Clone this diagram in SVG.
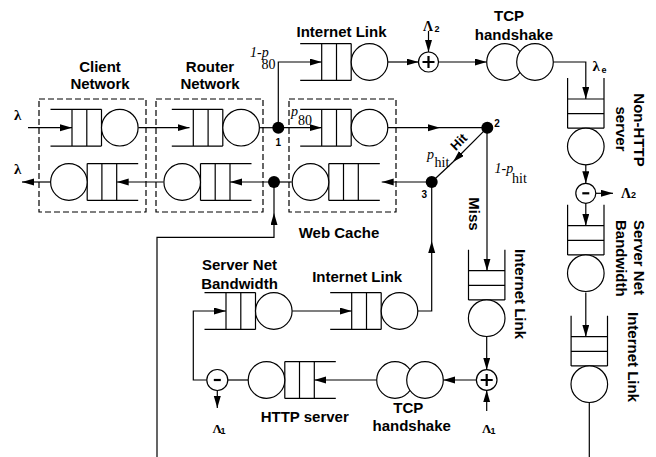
<svg xmlns="http://www.w3.org/2000/svg" xmlns:xlink="http://www.w3.org/1999/xlink" width="656" height="457" viewBox="0 0 656 457">
  <style>
    .ln { fill: none; stroke: #000; stroke-width: 1.2; }
    .dash { fill: none; stroke: #000; stroke-width: 1.2; stroke-dasharray: 6 3; }
    .srv { fill: #fff; stroke: #000; stroke-width: 1.2; }
    .dot { fill: #000; }
    .op { fill: #fff; stroke: #000; stroke-width: 1.2; }
    .sign { fill: none; stroke: #000; stroke-width: 2.2; }
    .lbl { font-family: "Liberation Sans", Arial, sans-serif; font-weight: bold; font-size: 15px; fill: #000; }
    .num { font-family: "Liberation Sans", Arial, sans-serif; font-weight: bold; font-size: 10px; fill: #000; }
    .math { font-family: "Liberation Serif", "Times New Roman", serif; font-size: 14px; fill: #000; }
    .it { font-style: italic; }
    .sym { font-family: "Liberation Serif", "Times New Roman", serif; font-weight: bold; font-size: 13px; fill: #000; }
    .lam { font-family: "Liberation Serif", "Times New Roman", serif; font-weight: bold; font-size: 15px; fill: #000; }
    .sub { font-family: "Liberation Sans", Arial, sans-serif; font-weight: bold; font-size: 9px; fill: #000; }
  </style>
  <defs>
    <marker id="ah" markerUnits="userSpaceOnUse" markerWidth="12" markerHeight="8" refX="12" refY="3.5" orient="auto">
      <path d="M0,0 L12,3.5 L0,7 z" fill="#000"/>
    </marker>
    <!-- queue entering from the left, server on the right; origin = first cell line -->
    <g id="qR">
      <path class="ln" d="M-21.5,-18.4 H29.5 M-21.5,18.4 H29.5 M0,-18.4 V18.4 M14.8,-18.4 V18.4 M29.5,-18.4 V18.4"/>
      <circle class="srv" cx="47.8" cy="0" r="18.3"/>
    </g>
    <!-- queue entering from the right, server on the left; origin = first cell line -->
    <g id="qL">
      <path class="ln" d="M21.5,-18.4 H-29.5 M21.5,18.4 H-29.5 M0,-18.4 V18.4 M-14.8,-18.4 V18.4 M-29.5,-18.4 V18.4"/>
      <circle class="srv" cx="-47.8" cy="0" r="18.3"/>
    </g>
    <!-- queue entering from the top, server below; origin = first cell line -->
    <g id="qD">
      <path class="ln" d="M-18.2,-21 V29.2 M18.2,-21 V29.2 M-18.2,0 H18.2 M-18.2,14.6 H18.2 M-18.2,29.2 H18.2"/>
      <circle class="srv" cx="0" cy="47.5" r="18.3"/>
    </g>
  </defs>

  <!-- connectors -->
  <g id="connectors">
    <path class="ln" marker-end="url(#ah)" d="M28,127.7 H72"/>
    <path class="ln" marker-end="url(#ah)" d="M138.3,127.7 H189.5"/>
    <path class="ln" d="M259,127.7 H278.3"/>
    <path class="ln" marker-end="url(#ah)" d="M278.3,127.7 H321.7"/>
    <path class="ln" marker-end="url(#ah)" d="M278.3,127.7 V62 H321.7"/>
    <path class="ln" marker-end="url(#ah)" d="M387.8,62 H418.5"/>
    <path class="ln" marker-end="url(#ah)" d="M428.5,31 V52"/>
    <path class="ln" marker-end="url(#ah)" d="M438.5,62 H486.7"/>
    <path class="ln" marker-end="url(#ah)" d="M553.3,62 H585.8 V99"/>
    <path class="ln" marker-end="url(#ah)" d="M585.8,164 V183.3"/>
    <path class="ln" marker-end="url(#ah)" d="M596,193.3 H613"/>
    <path class="ln" marker-end="url(#ah)" d="M585.8,203.3 V225.7"/>
    <path class="ln" marker-end="url(#ah)" d="M585.8,292.5 V336.7"/>
    <path class="ln" d="M589.3,402.7 V457"/>
    <path class="ln" marker-end="url(#ah)" d="M387.8,127.7 H440"/>
    <path class="ln" d="M440,127.7 H487.3"/>
    <path class="ln" marker-end="url(#ah)" d="M487.3,127.7 L453,162"/>
    <path class="ln" d="M453,162 L431.7,182"/>
    <path class="ln" marker-end="url(#ah)" d="M431.7,182 H381.7"/>
    <path class="ln" marker-end="url(#ah)" d="M487,127.7 V270.7"/>
    <path class="ln" marker-end="url(#ah)" d="M486.7,336.8 V369.7"/>
    <path class="ln" marker-end="url(#ah)" d="M486.7,411 V390.3"/>
    <path class="ln" marker-end="url(#ah)" d="M476.4,380 H443.3"/>
    <path class="ln" marker-end="url(#ah)" d="M376.7,380 H314.3"/>
    <path class="ln" d="M248.4,380 H227.8"/>
    <path class="ln" marker-end="url(#ah)" d="M206.8,380 H193.3 V311 H226"/>
    <path class="ln" marker-end="url(#ah)" d="M217.3,390.5 V408"/>
    <path class="ln" marker-end="url(#ah)" d="M292.3,311 H351.7"/>
    <path class="ln" marker-end="url(#ah)" d="M417,311 H431.7 V241"/>
    <path class="ln" d="M431.7,241 V182"/>
    <path class="ln" d="M291.7,182 H274"/>
    <path class="ln" marker-end="url(#ah)" d="M274,182 H230"/>
    <path class="ln" marker-end="url(#ah)" d="M163.4,182 H116.7"/>
    <path class="ln" marker-end="url(#ah)" d="M50,182 H22"/>
    <path class="ln" marker-end="url(#ah)" d="M157,457 V237.3 H274 V213"/>
    <path class="ln" d="M274,213 V182"/>
  </g>

  <!-- client network -->
  <g id="client-network">
    <rect class="dash" x="39" y="99" width="107" height="113"/>
    <use xlink:href="#qR" x="72" y="127.7"/>
    <use xlink:href="#qL" x="116.7" y="182"/>
    <text class="lbl" x="100" y="71.7" text-anchor="middle">Client</text>
    <text class="lbl" x="100" y="89.3" text-anchor="middle">Network</text>
  </g>

  <!-- router network -->
  <g id="router-network">
    <rect class="dash" x="156" y="99" width="107" height="113"/>
    <use xlink:href="#qR" x="193.3" y="127.7"/>
    <use xlink:href="#qL" x="230" y="182"/>
    <text class="lbl" x="210" y="71.7" text-anchor="middle">Router</text>
    <text class="lbl" x="210" y="89.3" text-anchor="middle">Network</text>
  </g>

  <!-- web cache -->
  <g id="web-cache">
    <rect class="dash" x="289" y="99" width="107" height="113"/>
    <use xlink:href="#qR" x="321.7" y="127.7"/>
    <use xlink:href="#qL" x="358.3" y="182"/>
    <text class="lbl" x="339" y="238.3" text-anchor="middle">Web Cache</text>
  </g>

  <!-- routing points -->
  <g id="junction-1">
    <circle class="dot" cx="278.3" cy="127.7" r="6"/>
    <text class="num" x="278.3" y="146" text-anchor="middle">1</text>
  </g>
  <g id="junction-2">
    <circle class="dot" cx="487.3" cy="127.7" r="6"/>
    <text class="num" x="497" y="127" text-anchor="middle">2</text>
  </g>
  <g id="junction-3">
    <circle class="dot" cx="431.7" cy="182" r="6"/>
    <text class="num" x="424.3" y="198" text-anchor="middle">3</text>
  </g>
  <g id="junction-4">
    <circle class="dot" cx="274" cy="182" r="6"/>
  </g>

  <!-- outer internet link -->
  <g id="internet-link-top">
    <use xlink:href="#qR" x="321.7" y="62"/>
    <text class="lbl" x="341.5" y="37.3" text-anchor="middle">Internet Link</text>
  </g>

  <g id="merge-top">
    <circle class="op" cx="428.5" cy="62" r="10"/>
    <path class="sign" d="M422.5,62 H434.5 M428.5,56 V68"/>
    <text class="sym" x="423" y="30.5" style="font-size:14px">Λ</text>
    <text class="sub" x="434.5" y="31.5">2</text>
  </g>

  <g id="tcp-top">
    <circle class="srv" cx="505" cy="62" r="18.3"/>
    <circle class="srv" cx="535" cy="62" r="18.3"/>
    <text class="lbl" x="509" y="20.7" text-anchor="middle">TCP</text>
    <text class="lbl" x="514" y="39.5" text-anchor="middle">handshake</text>
    <text class="lam" x="592.5" y="71">λ</text>
    <text class="sub" x="601.5" y="72.5">e</text>
  </g>

  <g id="non-http-server">
    <use xlink:href="#qD" x="585.8" y="99"/>
    <text class="lbl" transform="translate(634,130) rotate(90)" text-anchor="middle">Non-HTTP</text>
    <text class="lbl" transform="translate(616,129) rotate(90)" text-anchor="middle">server</text>
  </g>

  <g id="split-right">
    <circle class="op" cx="585.8" cy="193.3" r="10"/>
    <path class="sign" d="M582.3,193.3 H589.3"/>
    <text class="sym" x="621" y="197.5" style="font-size:14px">Λ</text>
    <text class="sub" x="631" y="198">2</text>
  </g>

  <g id="server-bandwidth-right">
    <use xlink:href="#qD" x="585.8" y="225.7"/>
    <text class="lbl" transform="translate(634,220) rotate(90)">Server Net</text>
    <text class="lbl" transform="translate(616,220) rotate(90)">Bandwidth</text>
  </g>

  <g id="internet-link-right">
    <use xlink:href="#qD" x="589.3" y="336.7"/>
    <text class="lbl" transform="translate(628,357) rotate(90)" text-anchor="middle">Internet Link</text>
  </g>

  <!-- miss path -->
  <g id="internet-link-miss">
    <use xlink:href="#qD" x="486.7" y="270.7"/>
    <text class="lbl" transform="translate(515,294) rotate(90)" text-anchor="middle">Internet Link</text>
    <text class="lbl" transform="translate(469,214) rotate(90)" text-anchor="middle">Miss</text>
  </g>

  <g id="merge-bottom">
    <circle class="op" cx="486.7" cy="380" r="10.3"/>
    <path class="sign" d="M480.7,380 H492.7 M486.7,374 V386"/>
    <text class="sym" x="482" y="433">Λ</text>
    <text class="sub" x="490.5" y="434">1</text>
  </g>

  <g id="tcp-bottom">
    <circle class="srv" cx="395" cy="380" r="18.3"/>
    <circle class="srv" cx="425" cy="380" r="18.3"/>
    <text class="lbl" x="408.3" y="412.7" text-anchor="middle">TCP</text>
    <text class="lbl" x="411.7" y="430.7" text-anchor="middle">handshake</text>
  </g>

  <g id="http-server">
    <use xlink:href="#qL" x="314.3" y="380"/>
    <text class="lbl" x="304.7" y="421.7" text-anchor="middle">HTTP server</text>
  </g>

  <g id="split-bottom">
    <circle class="op" cx="217.3" cy="380" r="10.5"/>
    <path class="sign" d="M213.8,380 H220.8"/>
    <text class="sym" x="212.5" y="433">Λ</text>
    <text class="sub" x="220.5" y="434">1</text>
  </g>

  <g id="server-bandwidth-bottom">
    <use xlink:href="#qR" x="226" y="311"/>
    <text class="lbl" x="239.5" y="270" text-anchor="middle">Server Net</text>
    <text class="lbl" x="239.5" y="289" text-anchor="middle">Bandwidth</text>
  </g>

  <g id="internet-link-bottom">
    <use xlink:href="#qR" x="351.7" y="311"/>
    <text class="lbl" x="357.2" y="281.7" text-anchor="middle">Internet Link</text>
  </g>

  <!-- arrival / departure and branch labels -->
  <g id="labels">
    <text class="lam" x="14" y="119.5">λ</text>
    <text class="lam" x="14" y="173.5">λ</text>
    <text class="math it" x="250" y="57">1-p</text>
    <text class="math" x="261.5" y="69.3">80</text>
    <text class="math it" x="291" y="115.5">p</text>
    <text class="math" x="298" y="125">80</text>
    <text class="math it" x="427" y="158.7">p</text>
    <text class="math" x="434.5" y="167">hit</text>
    <text class="math it" x="494.5" y="172.7">1-p</text>
    <text class="math" x="512" y="183.3">hit</text>
    <text class="lbl" transform="translate(462,145) rotate(-45)" text-anchor="middle" style="font-size:13px">Hit</text>
  </g>
</svg>
